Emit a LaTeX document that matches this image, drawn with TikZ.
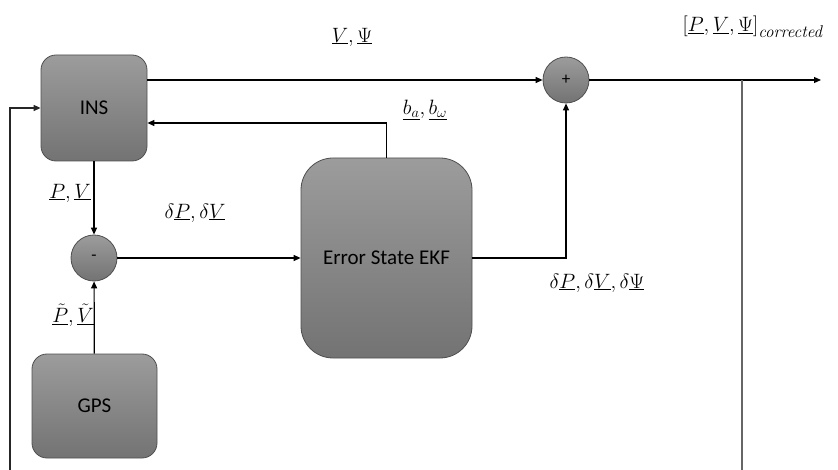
\documentclass[tikz,border=0pt]{standalone}
\usepackage{fontspec}
\newfontfamily\boxfont{Carlito}
\usetikzlibrary{arrows.meta}

\definecolor{boxtop}{HTML}{9C9C9C}
\definecolor{boxbot}{HTML}{737373}
\definecolor{boxline}{HTML}{4F4F4F}

\begin{document}
\begin{tikzpicture}[x=1pt, y=-1pt, line width=1.2pt, >={Triangle[length=7pt,width=6pt]},
    blk/.style = {draw=boxline, line width=0.8pt, top color=boxtop, bottom color=boxbot, inner sep=0pt, font=\boxfont\fontsize{21}{25}\selectfont},
    sum/.style = {draw=boxline, line width=0.8pt, circle, top color=boxtop, bottom color=boxbot, minimum size=46pt, inner sep=0pt, font=\boxfont\fontsize{17}{19}\selectfont},
    lbl/.style = {inner sep=0pt, font=\fontsize{21}{25}\selectfont}]

    \useasboundingbox (0,0) rectangle (838,470);

    % blocks
    \node[blk, minimum width=106pt, minimum height=106pt, rounded corners=15pt] (ins) at (94,108) {INS};
    \node[blk, minimum width=125pt, minimum height=104pt, rounded corners=15pt] (gps) at (94.5,406) {GPS};
    \node[blk, minimum width=171pt, minimum height=200pt, rounded corners=32pt] (ekf) at (386.5,258) {Error State EKF};
    \node[sum] (minus) at (94,258) {-};
    \node[sum] (plus) at (566,80) {+};

    % loose ends
    \coordinate (out) at (821,80);
    \coordinate (tap) at (742,80);
    \coordinate (tapend) at (742,470);
    \coordinate (fbstart) at (10,470);

    % signal lines
    \draw[->] (ins.east |- plus) -- (plus);
    \draw[->] (plus) -- (out);
    \draw[->] (ekf.north) |- ([yshift=-15pt]ins.east);
    \draw[->] (ins) -- (minus);
    \draw[->] (gps) -- (minus);
    \draw[->] (minus) -- (ekf);
    \draw[->] (ekf) -| (plus);

    % feedback
    \draw[black!60, line width=2pt] (tap) -- (tapend);
    \draw[->, black!85, line width=1.5pt] (fbstart) |- (ins);

    % labels
    \node[lbl] (lvpsi) at (352,37) {$\underline{V},\underline{\Psi}$};
    \node[lbl, anchor=west] (lcorr) at (682,27) {$\bigl[\underline{P},\underline{V},\underline{\Psi}\bigr]_{\mbox{\fontsize{17}{19}\selectfont\itshape corrected}}$};
    \node[lbl] (lbias) at (425,110) {$\underline{b_a},\underline{b_\omega}$};
    \node[lbl] (lpv) at (70,193) {$\underline{P},\underline{V}$};
    \node[lbl] (ldpv) at (195,213) {$\delta\underline{P},\delta\underline{V}$};
    \node[lbl] (lgps) at (73,315) {$\underline{\tilde{P}},\underline{\tilde{V}}$};
    \node[lbl] (lerr) at (597,283) {$\delta\underline{P},\delta\underline{V},\delta\underline{\Psi}$};
\end{tikzpicture}
\end{document}
